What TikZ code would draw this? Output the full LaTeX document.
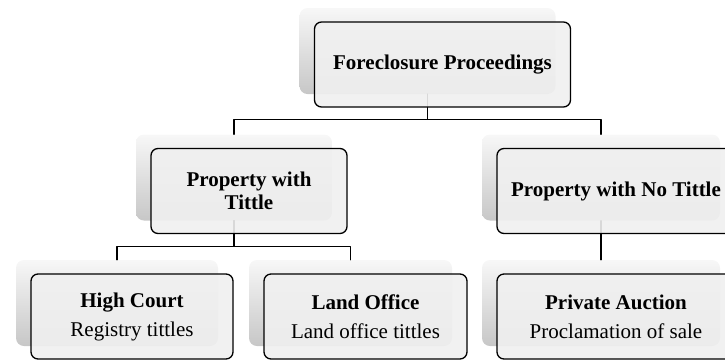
\documentclass[tikz,border=0pt]{standalone}
\usepackage{fontspec}
\setmainfont{Liberation Serif}
\usepackage{tikz}
\usetikzlibrary{calc}

\begin{document}
\begin{tikzpicture}[line cap=round,line join=round,x=1pt,y=-1pt,
  backbox/.style={rounded corners=8pt,top color=black!3,bottom color=black!22,inner sep=0pt,minimum height=86pt},
  mainbox/.style={draw=black,line width=1.3pt,rounded corners=7pt,fill=black!6,fill opacity=0.9,text opacity=1,inner sep=0pt,minimum height=85pt,align=center,font=\fontsize{21}{23}\selectfont},
  link/.style={draw=black,line width=1.2pt}]
\useasboundingbox (0,0) rectangle (725,360);
\clip (0,0) rectangle (725,360);
\node[backbox,minimum width=256pt] (fpb) at (427.5,51) {};
\node[backbox,minimum width=196pt] (ptb) at (234,177.5) {};
\node[backbox,minimum width=238pt] (pnb) at (601,177.5) {};
\node[backbox,minimum width=202pt] (hcb) at (117,303) {};
\node[backbox,minimum width=203pt] (lob) at (350.5,303) {};
\node[backbox,minimum width=238pt] (pab) at (601,303) {};
\draw[link] (fpb.south) -- ++(0,25) -| (ptb.north);
\draw[link] (fpb.south) -- ++(0,25) -| (pnb.north);
\draw[link] (ptb.south) -- ++(0,26) -| (hcb.north);
\draw[link] (ptb.south) -- ++(0,26) -| (lob.north);
\draw[link] (pnb.south) -- (pab.north);
\node[mainbox,minimum width=256pt] (fp) at ([shift={(15,13.5)}]fpb.center) {\textbf{Foreclosure Proceedings}};
\node[mainbox,minimum width=196pt] (pt) at ([shift={(15,13.5)}]ptb.center) {\textbf{Property with}\\\textbf{Tittle}};
\node[mainbox,minimum width=238pt] (pn) at ([shift={(15,13.5)}]pnb.center) {\textbf{Property with No Tittle}};
\node[mainbox,minimum width=202pt] (hc) at ([shift={(15,13.5)}]hcb.center) {\textbf{High Court}\\[6pt]Registry tittles};
\node[mainbox,minimum width=203pt] (lo) at ([shift={(15,13.5)}]lob.center) {\textbf{Land Office}\\[6pt]Land office tittles};
\node[mainbox,minimum width=238pt] (pa) at ([shift={(15,13.5)}]pab.center) {\textbf{Private Auction}\\[6pt]Proclamation of sale};
\end{tikzpicture}
\end{document}
